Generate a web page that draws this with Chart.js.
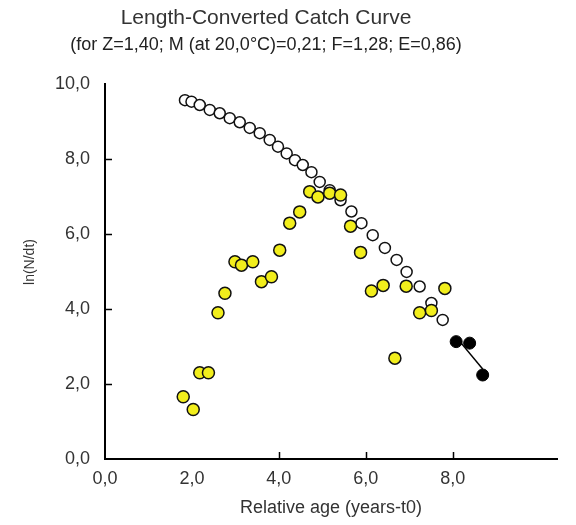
<!DOCTYPE html>
<html>
<head>
<meta charset="utf-8">
<script src="https://cdn.jsdelivr.net/npm/chart.js@4.4.1/dist/chart.umd.min.js"></script>
<style>
  body { margin: 0; background: #fff; }
  #wrap { width: 576px; height: 525px; }
</style>
</head>
<body>
<div id="wrap"><canvas id="catchCurve" width="576" height="525"></canvas></div>
<script>
// open circles: points not used in the regression
const openAge = [1.84, 1.99, 2.18, 2.41, 2.64, 2.87, 3.10, 3.33, 3.56, 3.79, 3.98, 4.18, 4.37, 4.55,
    4.75, 4.94, 5.17, 5.42, 5.67, 5.90, 6.16, 6.44, 6.71, 6.94, 7.24, 7.51, 7.77];
const openLnN = [9.57, 9.53, 9.44, 9.31, 9.22, 9.09, 8.98, 8.83, 8.69, 8.51, 8.33, 8.15, 7.97, 7.84,
    7.65, 7.39, 7.17, 6.90, 6.60, 6.29, 5.97, 5.63, 5.31, 4.99, 4.60, 4.16, 3.71];

// yellow points
const yellowAge = [1.80, 2.03, 2.18, 2.38, 2.60, 2.76, 2.99, 3.14, 3.40, 3.60, 3.83, 4.02, 4.25, 4.48,
    4.71, 4.90, 5.17, 5.42, 5.65, 5.88, 6.13, 6.40, 6.67, 6.93, 7.24, 7.51, 7.82];
const yellowLnN = [1.66, 1.32, 2.30, 2.30, 3.90, 4.42, 5.26, 5.17, 5.26, 4.73, 4.86, 5.57, 6.29, 6.59,
    7.13, 6.99, 7.09, 7.04, 6.21, 5.51, 4.48, 4.63, 2.69, 4.61, 3.90, 3.96, 4.55];

// black points used for the regression
const usedAge = [8.08, 8.39, 8.69];
const usedLnN = [3.13, 3.09, 2.24];

// fitted line, slope = -Z
const lineAge = [8.08, 8.69];
const lineLnN = [3.25, 2.40];

const xTickValues = [0, 2, 4, 6, 8];
const yTickValues = [0, 2, 4, 6, 8, 10];
const xTickMarks = [4, 6, 8];
const yTickMarks = [2, 4, 6, 8];

const titleText = 'Length-Converted Catch Curve';
const subtitleText = '(for Z=1,40; M (at 20,0°C)=0,21; F=1,28; E=0,86)';
const yTitleText = 'ln(N/dt)';
const xTitleText = 'Relative age (years-t0)';

function toPoints(xs, ys) {
    let pts = [];
    for (let i = 0; i < xs.length; i++) {
        pts.push({ x: xs[i], y: ys[i] });
    }
    return pts;
}

function commaLabel(v) {
    return v.toFixed(1).replace('.', ',');
}

const font = 'Liberation Sans, Arial, sans-serif';

// title, subtitle and y title sit a bit left of where Chart.js would centre them
const headings = {
    id: 'headings',
    afterDraw(chart) {
        let ctx = chart.ctx;
        ctx.save();
        ctx.textAlign = 'center';
        ctx.textBaseline = 'middle';
        ctx.fillStyle = '#333';
        ctx.font = '21px ' + font;
        ctx.fillText(titleText, 266, 18);
        ctx.fillStyle = '#222';
        ctx.font = '18px ' + font;
        ctx.fillText(subtitleText, 266, 45);
        ctx.fillStyle = '#333';
        ctx.font = '14px ' + font;
        ctx.translate(30, 262);
        ctx.rotate(-Math.PI / 2);
        ctx.fillText(yTitleText, 0, 0);
        ctx.restore();
    }
};

const innerTicks = {
    id: 'innerTicks',
    afterDatasetsDraw(chart) {
        let ctx = chart.ctx;
        let xs = chart.scales.x;
        let ys = chart.scales.y;
        let area = chart.chartArea;
        ctx.save();
        ctx.strokeStyle = '#000';
        ctx.lineWidth = 1.5;
        ctx.beginPath();
        xTickMarks.forEach(function (v) {
            let px = Math.round(xs.getPixelForValue(v)) + 0.5;
            ctx.moveTo(px, area.bottom);
            ctx.lineTo(px, area.bottom - 7);
        });
        yTickMarks.forEach(function (v) {
            let py = Math.round(ys.getPixelForValue(v)) + 0.5;
            ctx.moveTo(area.left, py);
            ctx.lineTo(area.left + 7, py);
        });
        ctx.stroke();
        ctx.restore();
    }
};

new Chart(document.getElementById('catchCurve'), {
    type: 'scatter',
    data: {
        datasets: [{
            label: 'Regression',
            type: 'line',
            data: toPoints(lineAge, lineLnN),
            borderColor: '#000',
            borderWidth: 1.5,
            pointRadius: 0,
            fill: false,
            order: 0
        }, {
            label: 'Used',
            data: toPoints(usedAge, usedLnN),
            backgroundColor: '#000',
            borderColor: '#000',
            borderWidth: 1,
            pointRadius: 6,
            order: 1
        }, {
            label: 'Yellow',
            data: toPoints(yellowAge, yellowLnN),
            backgroundColor: '#f2ee1c',
            borderColor: '#111',
            borderWidth: 1.5,
            pointRadius: 6,
            order: 2
        }, {
            label: 'Not used',
            data: toPoints(openAge, openLnN),
            backgroundColor: '#fff',
            borderColor: '#111',
            borderWidth: 1.5,
            pointRadius: 5.5,
            order: 3
        }]
    },
    options: {
        responsive: false,
        animation: false,
        layout: { padding: { left: 0, right: 19, top: 84, bottom: 0 } },
        plugins: {
            legend: { display: false },
            tooltip: { enabled: false },
            title: { display: false },
            subtitle: { display: false }
        },
        scales: {
            x: {
                type: 'linear',
                min: 0,
                max: 10.4,
                afterBuildTicks: function (scale) {
                    scale.ticks = xTickValues.map(function (v) { return { value: v }; });
                },
                afterFit: function (scale) { scale.height = 66; },
                grid: { display: false, drawTicks: false },
                border: { display: true, color: '#000', width: 2 },
                ticks: {
                    color: '#333',
                    padding: 9,
                    font: { family: font, size: 18 },
                    callback: function (v) { return commaLabel(v); }
                },
                title: {
                    display: true,
                    text: xTitleText,
                    color: '#333',
                    font: { family: font, size: 18 },
                    padding: { top: 0, bottom: 6 }
                }
            },
            y: {
                type: 'linear',
                min: 0,
                max: 10,
                afterBuildTicks: function (scale) {
                    scale.ticks = yTickValues.map(function (v) { return { value: v }; });
                },
                afterFit: function (scale) { scale.width = 105; },
                grid: { display: false, drawTicks: false },
                border: { display: true, color: '#000', width: 2 },
                ticks: {
                    color: '#333',
                    padding: 15,
                    font: { family: font, size: 18 },
                    callback: function (v) { return commaLabel(v); }
                },
                title: { display: false }
            }
        }
    },
    plugins: [innerTicks, headings]
});
</script>
</body>
</html>
